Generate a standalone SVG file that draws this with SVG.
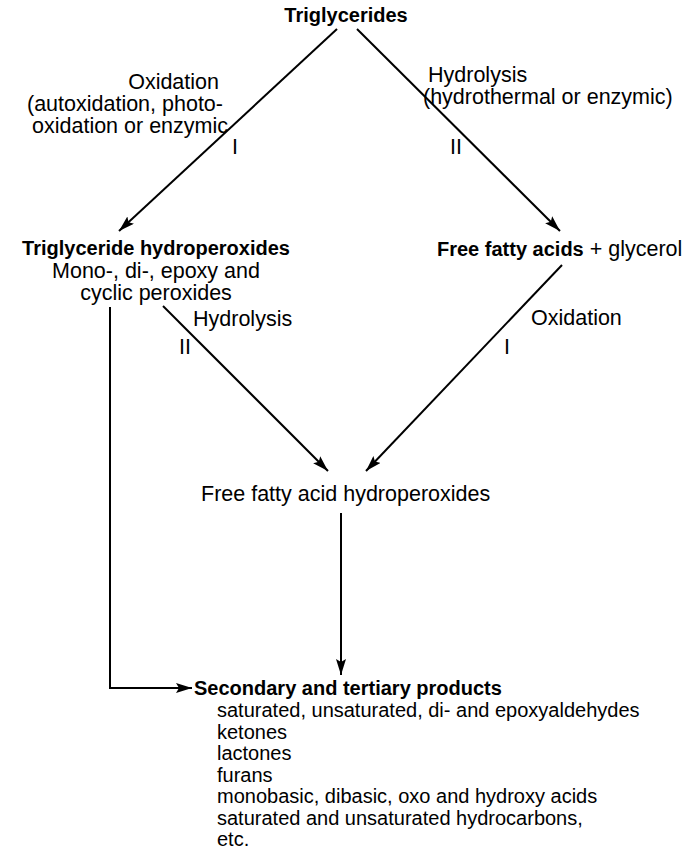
<svg xmlns="http://www.w3.org/2000/svg" width="693" height="852" viewBox="0 0 693 852">
  <style>
    text { font-family: "Liberation Sans", Arial, sans-serif; fill: #000; }
    .r { font-size: 21.5px; }
    .l { font-size: 20px; }
    .b { font-size: 20px; font-weight: bold; }
    .edge { stroke: #000; stroke-width: 2; fill: none; }
  </style>
  <defs>
    <marker id="ah" markerUnits="userSpaceOnUse" markerWidth="16" markerHeight="10" refX="16" refY="5" orient="auto">
      <path d="M0,0 L16,5 L0,10 L3,5 z" fill="#000"/>
    </marker>
  </defs>
  <rect width="693" height="852" fill="#fff"/>

  <g id="connectors">
    <line class="edge" x1="337" y1="29" x2="119" y2="231" marker-end="url(#ah)"/>
    <line class="edge" x1="357" y1="29" x2="560" y2="231" marker-end="url(#ah)"/>
    <line class="edge" x1="163" y1="306" x2="328" y2="471" marker-end="url(#ah)"/>
    <line class="edge" x1="562" y1="265" x2="366" y2="471" marker-end="url(#ah)"/>
    <line class="edge" x1="341" y1="513" x2="341" y2="675" marker-end="url(#ah)"/>
    <polyline class="edge" points="110,307 110,688 192,688" marker-end="url(#ah)"/>
  </g>

  <g id="edge-labels">
    <text class="r" x="219" y="89" text-anchor="end">Oxidation</text>
    <text class="r" x="223" y="111" text-anchor="end">(autoxidation, photo-</text>
    <text class="r" x="228" y="133" text-anchor="end">oxidation or enzymic</text>
    <text class="r" x="232" y="154">I</text>
    <text class="r" x="428" y="82">Hydrolysis</text>
    <text class="r" x="423" y="104">(hydrothermal or enzymic)</text>
    <text class="r" x="450" y="154">II</text>
    <text class="r" x="193" y="326">Hydrolysis</text>
    <text class="r" x="179" y="354">II</text>
    <text class="r" x="531" y="325">Oxidation</text>
    <text class="r" x="504" y="354">I</text>
  </g>

  <g id="n-triglycerides">
    <text class="b" x="346" y="22" text-anchor="middle">Triglycerides</text>
  </g>

  <g id="n-tg-hydroperoxides">
    <text class="b" x="156" y="255" text-anchor="middle">Triglyceride hydroperoxides</text>
    <text class="r" x="156" y="278" text-anchor="middle">Mono-, di-, epoxy and</text>
    <text class="r" x="156" y="300" text-anchor="middle">cyclic peroxides</text>
  </g>

  <g id="n-ffa">
    <text x="437" y="256"><tspan class="b">Free fatty acids</tspan><tspan class="r"> + glycerol</tspan></text>
  </g>

  <g id="n-ffa-hydroperoxides">
    <text class="r" x="201" y="501">Free fatty acid hydroperoxides</text>
  </g>

  <g id="n-secondary">
    <text class="b" x="194" y="695">Secondary and tertiary products</text>
    <text class="l" x="217" y="717">saturated, unsaturated, di- and epoxyaldehydes</text>
    <text class="l" x="217" y="738.5">ketones</text>
    <text class="l" x="217" y="760">lactones</text>
    <text class="l" x="217" y="781.5">furans</text>
    <text class="l" x="217" y="803">monobasic, dibasic, oxo and hydroxy acids</text>
    <text class="l" x="217" y="824.5">saturated and unsaturated hydrocarbons,</text>
    <text class="l" x="217" y="846">etc.</text>
  </g>
</svg>
